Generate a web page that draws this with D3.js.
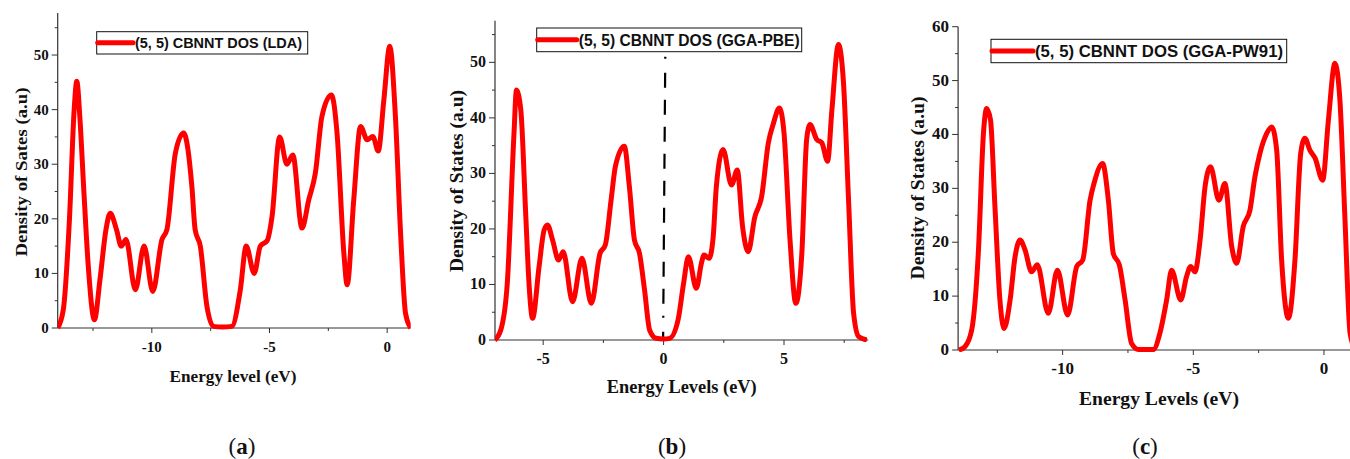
<!DOCTYPE html>
<html>
<head>
<meta charset="utf-8">
<script src="https://d3js.org/d3.v7.min.js"></script>
<style>
  body { margin: 0; background: #fff; }
  svg { display: block; }
  .tick-label { font-family: "Liberation Serif", serif; font-weight: bold; fill: #111; }
  .axis-title { font-family: "Liberation Serif", serif; font-weight: bold; fill: #111; }
  .legend-text { font-family: "Liberation Sans", Arial, sans-serif; font-weight: bold; fill: #111; }
  .sub-label { font-family: "Liberation Serif", serif; font-size: 23px; fill: #111; }
</style>
</head>
<body>
<svg class="chart" width="1350" height="459"></svg>
<script>
// (a) LDA
var ldaEnergy = [-14.0, -13.76, -13.5, -13.3, -13.19, -13.05, -12.9, -12.7, -12.44, -12.2, -11.95, -11.77, -11.5, -11.3, -11.1, -10.7,
    -10.33, -9.96, -9.57, -9.36, -9.0, -8.65, -8.3, -8.16, -7.94, -7.66, -7.38, -7.0, -6.6, -6.24, -5.99, -5.65, -5.39, -5.1,
    -4.89, -4.57, -4.26, -4.01, -3.62, -3.33, -3.05, -2.77, -2.37, -2.13, -1.84, -1.7, -1.42, -1.13, -0.85, -0.61, -0.38, -0.14,
    0.11, 0.35, 0.57, 0.78, 1.0];
var ldaDos = [0, 3.4, 20, 40, 45.2, 38, 26, 11.3, 1.5, 9, 18, 21, 18, 15, 16.2, 7,
    15, 6.7, 16.2, 18, 32, 35.7, 26, 18, 15, 4, 0.3, 0.2, 0.3, 7, 15, 10, 15, 16,
    20.5, 35, 30, 31.7, 18.3, 23.5, 28.4, 38.8, 42.7, 35.7, 13.7, 7.9, 23.5, 36.9, 34.5, 35.1, 32.4, 41.8,
    51.6, 38.8, 17.4, 2.7, 0];

// (b) GGA-PBE
var pbeEnergy = [-7.01, -6.76, -6.49, -6.21, -6.11, -5.93, -5.72, -5.58, -5.44, -5.17, -4.96, -4.82, -4.61, -4.36, -4.17, -3.78,
    -3.39, -3.0, -2.64, -2.42, -2.18, -2.0, -1.63, -1.42, -1.21, -1.0, -0.79, -0.58, -0.31, 0.0, 0.25, 0.6, 0.83, 1.03, 1.36,
    1.57, 1.68, 1.89, 2.06, 2.19, 2.47, 2.82, 3.06, 3.28, 3.51, 3.79, 4.07, 4.35, 4.56, 4.81, 5.0, 5.25, 5.49, 5.74, 5.94,
    6.08, 6.36, 6.57, 6.81, 6.99, 7.26, 7.47, 7.68, 7.89, 8.1, 8.44];
var pbeDos = [0, 1.8, 10.2, 37.3, 45, 41.5, 22.2, 9.6, 3.9, 13.2, 19.8, 20.7, 18, 14.4, 15.9, 6.9,
    14.7, 6.6, 15.6, 17.1, 25.2, 31.3, 34.9, 27.6, 18, 15.6, 9, 1.8, 0.3, 0.2, 0.3, 3.6, 10.2, 15, 9.3,
    13.8, 15.3, 14.7, 18.6, 27.6, 34.3, 27.9, 30.6, 20.4, 15.9, 22.2, 25.8, 35.5, 39, 41.8, 37.3, 18, 6.6, 15.6, 36.1,
    38.8, 36.1, 35.5, 32.2, 41.5, 53.2, 46.3, 25.2, 4.8, 0.6, 0];
var fermiLine = [[0.07, 51], [-0.02, 0]];

// (c) GGA-PW91
var pw91Energy = [-13.97, -13.74, -13.48, -13.22, -13.03, -12.91, -12.76, -12.59, -12.4, -12.24, -12.01, -11.82, -11.63, -11.44, -11.19,
    -10.97, -10.55, -10.2, -9.81, -9.46, -9.23, -8.95, -8.8, -8.47, -8.25, -8.06, -7.83, -7.61, -7.36, -7.1, -6.8, -6.53, -6.28,
    -6.02, -5.83, -5.48, -5.26, -5.1, -4.94, -4.74, -4.55, -4.34, -4.02, -3.79, -3.53, -3.34, -3.09, -2.83, -2.64, -2.45, -2.19,
    -2.0, -1.81, -1.62, -1.36, -1.11, -0.89, -0.73, -0.54, -0.34, -0.05, 0.17, 0.42, 0.61, 0.8, 1.0, 1.2];
var pw91Dos = [0, 0.6, 3.7, 18.6, 40.2, 44.8, 42.7, 26.6, 9.3, 4, 9.3, 17.3, 20.4, 18.6, 14.5,
    15.8, 6.8, 14.8, 6.5, 15.5, 16.7, 27.8, 30.9, 34.6, 27.8, 17.9, 15.8, 9.3, 1.2, 0.1, 0.1, 0.1, 3.1,
    9.3, 14.8, 9.3, 13.6, 15.5, 14.5, 20.4, 30.3, 34, 27.8, 30.9, 19.2, 16.1, 22.9, 26, 32.2, 36.5, 40.2,
    41.4, 37.1, 16.7, 5.9, 16.7, 36.5, 39.3, 37.1, 35.6, 31.5, 42.7, 53.2, 46.4, 24.7, 3.1, 0];

var xTicksA = [-10, -5, 0];
var xTicksB = [-5, 0, 5];
var yTicksAB = [0, 10, 20, 30, 40, 50];
var yTicksC = [0, 10, 20, 30, 40, 50, 60];

var panels = [
    { id: "a", energy: ldaEnergy, dos: ldaDos, xDomain: [-14, 1], xRange: [57.7, 410.7], yDomain: [0, 57.7], yRange: [328, 13],
      xTicks: xTicksA, yTicks: yTicksAB, xTitle: "Energy level (eV)", yTitle: "Density of Sates (a.u)",
      tickSize: 15, titleSize: 17.5, titleLen: [127, 169],
      xTitlePos: [233, 382], yTitlePos: [27, 172], subPos: [242, 454],
      legend: { x: 96.7, y: 31.7, w: 211, h: 22.3, lineEnd: 133, size: 15, len: 167, text: "(5, 5) CBNNT DOS (LDA)" } },
    { id: "b", energy: pbeEnergy, dos: pbeDos, xDomain: [-7, 8.5], xRange: [495, 868.3], yDomain: [0, 57.5], yRange: [340, 20.7],
      xTicks: xTicksB, yTicks: yTicksAB, xTitle: "Energy Levels (eV)", yTitle: "Density of States (a.u)",
      tickSize: 16, titleSize: 18.3, titleLen: [150, 182],
      xTitlePos: [681.7, 393], yTitlePos: [463, 181], subPos: [672, 454], fermi: fermiLine,
      legend: { x: 536.7, y: 28, w: 265, h: 23.7, lineEnd: 576.7, size: 16, len: 221, text: "(5, 5) CBNNT DOS (GGA-PBE)" } },
    { id: "c", energy: pw91Energy, dos: pw91Dos, xDomain: [-14, 1], xRange: [958.1, 1350.1], yDomain: [0, 60], yRange: [350, 26.7],
      xTicks: xTicksA, yTicks: yTicksC, xTitle: "Energy Levels (eV)", yTitle: "Density of States (a.u)",
      tickSize: 17, titleSize: 19.5, titleLen: [160, 183],
      xTitlePos: [1159, 405], yTitlePos: [924, 188], subPos: [1145, 454],
      legend: { x: 991, y: 39.3, w: 295.7, h: 23.4, lineEnd: 1033, size: 17, len: 248, text: "(5, 5) CBNNT DOS (GGA-PW91)" } }
];

var svg = d3.select("svg.chart");
var axisColor = "#333";

panels.forEach(function(p) {
    var x = d3.scaleLinear().domain(p.xDomain).range(p.xRange);
    var y = d3.scaleLinear().domain(p.yDomain).range(p.yRange);
    var g = svg.append("g").attr("class", "panel-" + p.id);

    g.append("clipPath").attr("id", "clip-" + p.id)
        .append("rect")
        .attr("x", p.xRange[0]).attr("y", p.yRange[1] - 10)
        .attr("width", p.xRange[1] - p.xRange[0]).attr("height", p.yRange[0] - p.yRange[1] + 12);

    // minor ticks
    var xMinor = d3.range(Math.ceil(p.xDomain[0] / 2.5) * 2.5, p.xDomain[1] + 0.001, 2.5)
        .filter(function(v) { return p.xTicks.indexOf(v) < 0; });
    var yMinor = d3.range(5, p.yDomain[1], 10);

    g.selectAll(".xminor").data(xMinor).enter().append("line")
        .attr("x1", function(d) { return x(d); }).attr("x2", function(d) { return x(d); })
        .attr("y1", p.yRange[0]).attr("y2", p.yRange[0] + 3)
        .attr("stroke", axisColor);
    g.selectAll(".xmajor").data(p.xTicks).enter().append("line")
        .attr("x1", function(d) { return x(d); }).attr("x2", function(d) { return x(d); })
        .attr("y1", p.yRange[0]).attr("y2", p.yRange[0] + 5)
        .attr("stroke", axisColor);
    g.selectAll(".yminor").data(yMinor).enter().append("line")
        .attr("x1", p.xRange[0] - 3).attr("x2", p.xRange[0])
        .attr("y1", function(d) { return y(d); }).attr("y2", function(d) { return y(d); })
        .attr("stroke", axisColor);
    g.selectAll(".ymajor").data(p.yTicks).enter().append("line")
        .attr("x1", p.xRange[0] - 6).attr("x2", p.xRange[0])
        .attr("y1", function(d) { return y(d); }).attr("y2", function(d) { return y(d); })
        .attr("stroke", axisColor);

    // axis lines
    g.append("line").attr("x1", p.xRange[0]).attr("x2", p.xRange[0])
        .attr("y1", p.yRange[0]).attr("y2", p.yRange[1])
        .attr("stroke", axisColor).attr("stroke-width", 1.2);
    g.append("line").attr("x1", p.xRange[0]).attr("x2", p.xRange[1])
        .attr("y1", p.yRange[0]).attr("y2", p.yRange[0])
        .attr("stroke", axisColor).attr("stroke-width", 1.2);

    // tick labels
    g.selectAll(".xlab").data(p.xTicks).enter().append("text")
        .attr("class", "tick-label")
        .style("font-size", p.tickSize + "px")
        .attr("x", function(d) { return x(d); })
        .attr("y", p.yRange[0] + 24)
        .attr("text-anchor", "middle")
        .text(function(d) { return d; });
    g.selectAll(".ylab").data(p.yTicks).enter().append("text")
        .attr("class", "tick-label")
        .style("font-size", p.tickSize + "px")
        .attr("x", p.xRange[0] - 9)
        .attr("y", function(d) { return y(d) + 5; })
        .attr("text-anchor", "end")
        .text(function(d) { return d; });

    // titles
    g.append("text").attr("class", "axis-title")
        .style("font-size", p.titleSize + "px")
        .attr("x", p.xTitlePos[0]).attr("y", p.xTitlePos[1])
        .attr("text-anchor", "middle")
        .attr("textLength", p.titleLen[0]).attr("lengthAdjust", "spacingAndGlyphs")
        .text(p.xTitle);
    g.append("text").attr("class", "axis-title")
        .style("font-size", p.titleSize + "px")
        .attr("transform", "translate(" + p.yTitlePos[0] + "," + p.yTitlePos[1] + ") rotate(-90)")
        .attr("text-anchor", "middle")
        .attr("textLength", p.titleLen[1]).attr("lengthAdjust", "spacingAndGlyphs")
        .text(p.yTitle);

    // fermi level
    if (p.fermi) {
        g.append("line")
            .attr("x1", x(p.fermi[0][0])).attr("y1", y(p.fermi[0][1]))
            .attr("x2", x(p.fermi[1][0])).attr("y2", y(p.fermi[1][1]))
            .attr("stroke", "#000").attr("stroke-width", 2.2)
            .attr("stroke-dasharray", "2,14,15,12,15,12,15,12,15,12,15,12,15,12,15,12,15,12,15,12");
    }

    // DOS curve
    var pts = p.energy.map(function(e, i) { return [e, p.dos[i]]; });
    var line = d3.line()
        .x(function(d) { return x(d[0]); })
        .y(function(d) { return y(d[1]); })
        .curve(d3.curveMonotoneX);
    g.append("path")
        .attr("d", line(pts))
        .attr("clip-path", "url(#clip-" + p.id + ")")
        .attr("fill", "none")
        .attr("stroke", "#ff0000")
        .attr("stroke-width", 5)
        .attr("stroke-linejoin", "round");

    // legend
    var L = p.legend;
    g.append("rect").attr("x", L.x).attr("y", L.y).attr("width", L.w).attr("height", L.h)
        .attr("fill", "#fff").attr("stroke", "#111").attr("stroke-width", 1);
    g.append("line").attr("x1", L.x + 1).attr("x2", L.lineEnd)
        .attr("y1", L.y + L.h / 2).attr("y2", L.y + L.h / 2)
        .attr("stroke", "#ff0000").attr("stroke-width", 5).attr("stroke-linecap", "round");
    g.append("text").attr("class", "legend-text")
        .style("font-size", L.size + "px")
        .attr("x", L.lineEnd + 2).attr("y", L.y + L.h / 2 + L.size * 0.36)
        .attr("textLength", L.len).attr("lengthAdjust", "spacingAndGlyphs")
        .text(L.text);

    // sub label
    var sub = g.append("text").attr("class", "sub-label")
        .attr("x", p.subPos[0]).attr("y", p.subPos[1]).attr("text-anchor", "middle");
    sub.append("tspan").text("(");
    sub.append("tspan").attr("font-weight", "bold").text(p.id);
    sub.append("tspan").text(")");
});
</script>
</body>
</html>
